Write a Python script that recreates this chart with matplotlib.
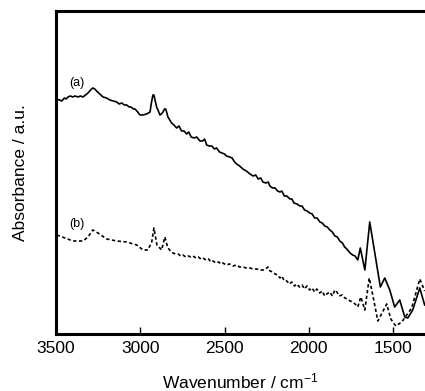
import matplotlib
matplotlib.use('Agg')
import matplotlib.pyplot as plt

plt.rcParams['font.family'] = ['Liberation Sans', 'DejaVu Sans']
plt.rcParams['mathtext.fontset'] = 'custom'
plt.rcParams['mathtext.rm'] = 'Liberation Sans'
plt.rcParams['mathtext.it'] = 'Liberation Sans:italic'
plt.rcParams['mathtext.bf'] = 'Liberation Sans:bold'

# spectrum (a), solid
wn_a = [3496, 3480, 3466, 3450, 3440, 3429, 3415, 3400, 3387, 3370, 3355, 3340,
        3325, 3310, 3295, 3282, 3270, 3259, 3240, 3221, 3200, 3180, 3160, 3140,
        3125, 3110, 3095, 3081, 3065, 3055, 3040, 3031, 3015, 3002, 2985, 2962,
        2942, 2935, 2925, 2919, 2910, 2903, 2890, 2883, 2875, 2865, 2856, 2849,
        2842, 2836, 2814, 2800, 2784, 2770, 2755, 2740, 2725, 2712, 2698, 2680,
        2665, 2646, 2630, 2618, 2606, 2590, 2575, 2560, 2547, 2530, 2515, 2500,
        2488, 2470, 2455, 2440, 2428, 2410, 2391, 2370, 2349, 2330, 2315, 2300,
        2285, 2272, 2255, 2240, 2231, 2215, 2200, 2185, 2171, 2160, 2145, 2130,
        2112, 2100, 2088, 2070, 2053, 2040, 2025, 2010, 1994, 1980, 1965, 1950,
        1934, 1920, 1905, 1890, 1875, 1860, 1845, 1830, 1816, 1800, 1787, 1774,
        1755, 1739, 1725, 1709, 1694, 1667, 1638, 1608, 1575, 1549, 1519, 1490,
        1460, 1430, 1412, 1383, 1341, 1312]
abs_a = [2.35, 2.34, 2.33, 2.36, 2.35, 2.37, 2.38, 2.37, 2.38, 2.37, 2.38, 2.37,
         2.39, 2.41, 2.44, 2.46, 2.45, 2.43, 2.40, 2.37, 2.36, 2.34, 2.33, 2.32,
         2.30, 2.31, 2.29, 2.29, 2.27, 2.27, 2.25, 2.25, 2.22, 2.19, 2.19, 2.20,
         2.22, 2.30, 2.39, 2.39, 2.32, 2.27, 2.22, 2.19, 2.20, 2.22, 2.25, 2.25,
         2.21, 2.17, 2.11, 2.09, 2.06, 2.08, 2.03, 2.03, 2.00, 2.02, 1.97, 1.96,
         1.97, 1.93, 1.93, 1.95, 1.89, 1.88, 1.88, 1.85, 1.86, 1.82, 1.81, 1.80,
         1.78, 1.77, 1.76, 1.72, 1.70, 1.68, 1.65, 1.63, 1.60, 1.58, 1.59, 1.55,
         1.56, 1.52, 1.51, 1.52, 1.48, 1.46, 1.46, 1.43, 1.42, 1.43, 1.38, 1.38,
         1.35, 1.35, 1.31, 1.30, 1.28, 1.28, 1.24, 1.23, 1.21, 1.20, 1.16, 1.16,
         1.12, 1.11, 1.08, 1.07, 1.04, 1.02, 0.98, 0.97, 0.93, 0.91, 0.87, 0.85,
         0.81, 0.79, 0.78, 0.74, 0.86, 0.64, 1.12, 0.81, 0.47, 0.56, 0.44, 0.27,
         0.34, 0.17, 0.16, 0.24, 0.46, 0.29]

# spectrum (b), dashed
wn_b = [3496, 3447, 3399, 3340, 3310, 3282, 3251, 3199, 3140, 3081, 3021, 2984,
        2954, 2932, 2919, 2901, 2873, 2854, 2836, 2820, 2806, 2790, 2775, 2760,
        2747, 2730, 2715, 2700, 2687, 2670, 2655, 2640, 2628, 2610, 2595, 2580,
        2569, 2550, 2535, 2520, 2510, 2490, 2470, 2450, 2428, 2410, 2390, 2370,
        2349, 2330, 2310, 2290, 2272, 2255, 2243, 2230, 2213, 2200, 2185, 2171,
        2160, 2145, 2130, 2115, 2100, 2085, 2071, 2055, 2040, 2025, 2011, 1995,
        1980, 1965, 1952, 1935, 1920, 1905, 1893, 1875, 1860, 1845, 1833, 1820,
        1800, 1786, 1770, 1755, 1739, 1725, 1709, 1691, 1667, 1641, 1620, 1590,
        1537, 1513, 1484, 1448, 1389, 1341, 1312]
abs_b = [0.99, 0.96, 0.93, 0.93, 0.97, 1.04, 1.01, 0.95, 0.93, 0.92, 0.89, 0.84,
         0.84, 0.92, 1.06, 0.89, 0.84, 0.97, 0.86, 0.83, 0.81, 0.80, 0.80, 0.78,
         0.79, 0.77, 0.78, 0.77, 0.78, 0.76, 0.77, 0.75, 0.76, 0.74, 0.75, 0.72,
         0.73, 0.71, 0.72, 0.70, 0.71, 0.69, 0.70, 0.68, 0.69, 0.67, 0.67, 0.66,
         0.66, 0.65, 0.65, 0.64, 0.64, 0.65, 0.67, 0.63, 0.62, 0.60, 0.59, 0.56,
         0.58, 0.53, 0.53, 0.50, 0.52, 0.48, 0.50, 0.47, 0.49, 0.45, 0.48, 0.44,
         0.46, 0.42, 0.45, 0.41, 0.43, 0.38, 0.40, 0.42, 0.38, 0.44, 0.42, 0.38,
         0.39, 0.36, 0.35, 0.33, 0.32, 0.30, 0.27, 0.37, 0.24, 0.56, 0.39, 0.13,
         0.30, 0.15, 0.08, 0.12, 0.26, 0.55, 0.43]

xticks = [3500, 3000, 2500, 2000, 1500]

fig = plt.figure(figsize=(4.25, 3.91), dpi=100)
ax = fig.add_axes([0.1318, 0.1458, 0.8682, 0.8261])

ax.plot(wn_a, abs_a, color='black', linewidth=1.2)
ax.plot(wn_b, abs_b, color='black', linewidth=1.2, linestyle=(0, (2, 1.5)))

ax.text(3420, 2.48, '(a)', fontsize=9)
ax.text(3420, 1.07, '(b)', fontsize=9)

ax.set_xlim(3500, 1310)
ax.set_ylim(0, 3.23)
ax.set_xticks(xticks)
ax.set_yticks([])
ax.tick_params(axis='x', direction='in', length=5, width=1, pad=5, labelsize=12.5)

for side in ['left', 'top', 'bottom']:
    ax.spines[side].set_linewidth(2.2)
ax.spines['right'].set_visible(False)

ax.set_xlabel('Wavenumber / cm$^{-1}$', fontsize=12.5, labelpad=11)
ax.set_ylabel('Absorbance / a.u.', fontsize=12.5, labelpad=20)

fig.savefig('out.png', dpi=100)
